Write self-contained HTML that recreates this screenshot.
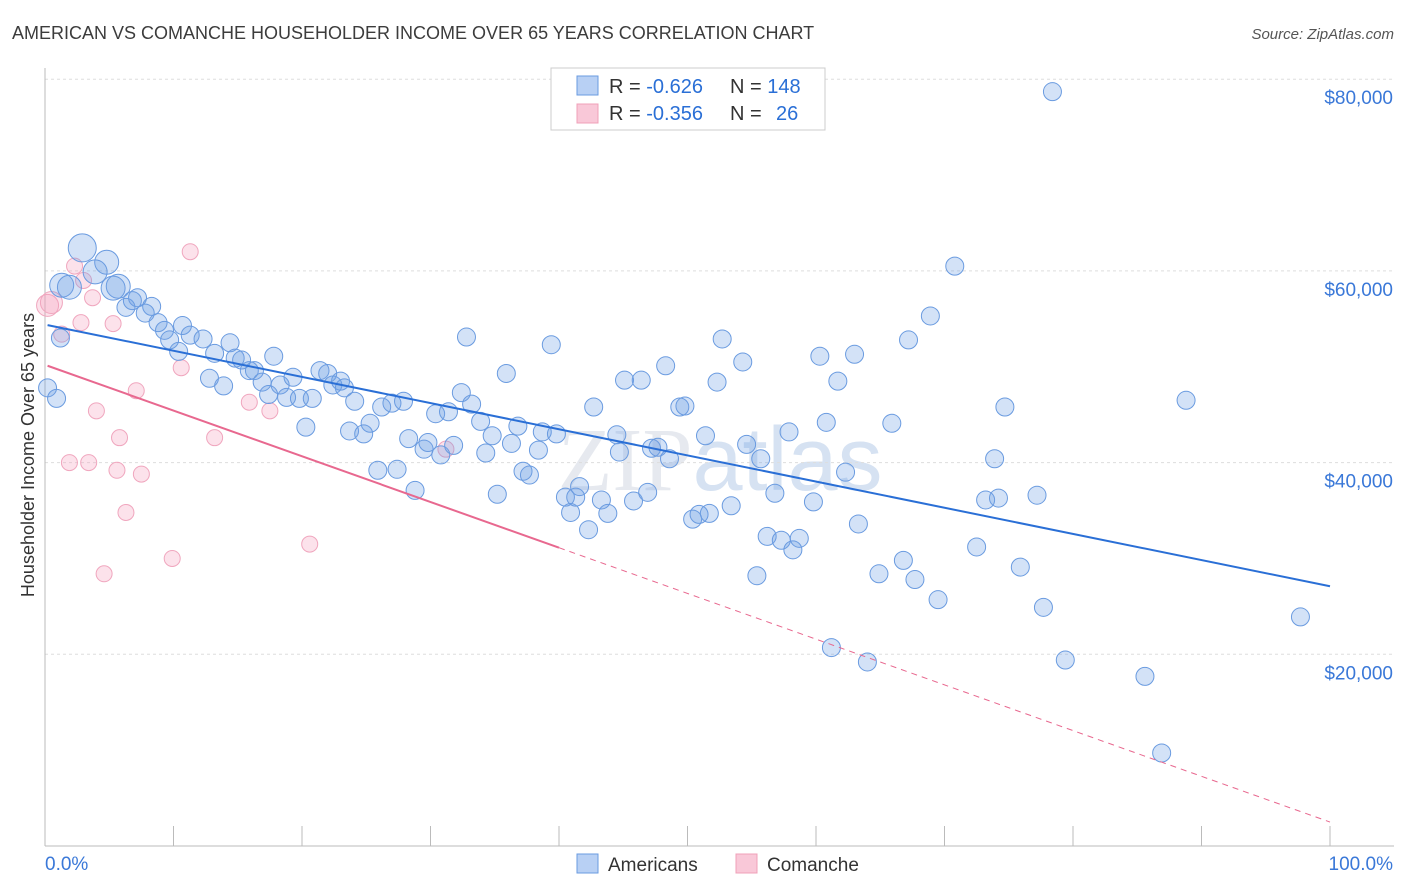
<!DOCTYPE html>
<html><head><meta charset="utf-8">
<style>
body{margin:0;background:#fff;font-family:"Liberation Sans",sans-serif;}
svg{display:block}
</style></head>
<body>
<svg id="chart" width="1406" height="892">
<text x="12" y="39" font-size="18" fill="#3c3c3c">AMERICAN VS COMANCHE HOUSEHOLDER INCOME OVER 65 YEARS CORRELATION CHART</text>
<text x="1394" y="39" font-size="15" fill="#555" font-style="italic" text-anchor="end">Source: ZipAtlas.com</text>
<text x="720" y="490" font-size="90" fill="#e6e9ef" text-anchor="middle" font-family="Liberation Serif">ZIP<tspan fill="#d6e2f2" font-family="Liberation Sans">atlas</tspan></text>
<text transform="translate(34,455) rotate(-90)" font-size="18" fill="#333" text-anchor="middle">Householder Income Over 65 years</text>
<g id="grid"></g>
<g id="marks"></g>
<g>
<rect x="551" y="68" width="274" height="62" fill="#fff" stroke="#ccc"/>
<rect x="577" y="76" width="21" height="19" fill="#b8d0f4" stroke="#6a9be0"/>
<rect x="577" y="104" width="21" height="19" fill="#f9c8d8" stroke="#f0a0b8"/>
<text x="609" y="93" font-size="20" fill="#333">R = <tspan fill="#2a6fd6">-0.626</tspan></text>
<text x="730" y="93" font-size="20" fill="#333">N = <tspan fill="#2a6fd6">148</tspan></text>
<text x="609" y="120" font-size="20" fill="#333">R = <tspan fill="#2a6fd6">-0.356</tspan></text>
<text x="730" y="120" font-size="20" fill="#333">N = </text>
<text x="776" y="120" font-size="20" fill="#2a6fd6">26</text>
</g>
<g>
<rect x="577" y="854" width="21" height="19" fill="#b8d0f4" stroke="#6a9be0"/>
<text x="608" y="871" font-size="19" fill="#333">Americans</text>
<rect x="736" y="854" width="21" height="19" fill="#f9c8d8" stroke="#f0a0b8"/>
<text x="767" y="871" font-size="19" fill="#333">Comanche</text>
</g>
</svg>
<script>
const yTicks=[20000,40000,60000,80000];
const yTickLabels=["$20,000","$40,000","$60,000","$80,000"];
const xTicks=[0,10,20,30,40,50,60,70,80,90,100];
const amX=[2.9,1.3,1.9,4.8,3.9,5.7,5.3,6.3,7.2,6.8,8.3,7.8,8.8,9.3,10.7,9.7,10.4,11.3,12.3,1.2,0.2,0.9,14.4,13.2,14.8,15.3,17.8,12.8,13.9,15.9,16.3,16.9,18.3,19.3,17.4,18.8,19.8,20.8,21.4,22.0,22.4,23.0,23.3,20.3,24.1,25.3,26.2,27.0,27.9,23.7,24.8,25.9,27.4,28.3,28.8,29.5,29.8,30.4,30.8,31.4,31.8,32.4,32.8,33.2,33.9,34.8,34.3,35.2,35.9,36.3,36.8,37.2,37.7,38.4,38.7,39.4,39.8,40.5,40.9,41.3,41.6,42.3,42.7,43.3,43.8,44.5,44.7,45.1,45.8,46.4,46.9,47.2,47.7,48.3,48.6,49.4,49.8,50.4,50.9,51.7,51.4,52.3,52.7,53.4,54.3,54.6,55.4,55.7,56.2,56.8,57.3,57.9,58.2,58.7,59.8,60.3,60.8,61.2,61.7,62.3,63.0,63.3,64.0,64.9,65.9,66.8,67.2,67.7,68.9,69.5,70.8,72.5,73.2,73.9,74.2,74.7,75.9,77.2,77.7,78.4,79.4,85.6,86.9,88.8,97.7];
const amY=[62.4,58.5,58.3,60.9,59.9,58.4,58.2,56.2,57.2,56.9,56.3,55.6,54.6,53.8,54.3,52.8,51.6,53.3,52.9,53.0,47.8,46.7,52.5,51.4,50.9,50.7,51.1,48.8,48.0,49.6,49.6,48.4,48.1,48.9,47.1,46.8,46.7,46.7,49.6,49.3,48.1,48.5,47.8,43.7,46.4,44.1,45.8,46.2,46.4,43.3,43.0,39.2,39.3,42.5,37.1,41.4,42.1,45.1,40.8,45.3,41.8,47.3,53.1,46.1,44.3,42.8,41.0,36.7,49.3,42.0,43.8,39.1,38.7,41.3,43.2,52.3,43.0,36.4,34.8,36.4,37.5,33.0,45.8,36.1,34.7,42.9,41.1,48.6,36.0,48.6,36.9,41.5,41.6,50.1,40.4,45.8,45.9,34.1,34.6,34.7,42.8,48.4,52.9,35.5,50.5,41.9,28.2,40.4,32.3,36.8,31.9,43.2,30.9,32.1,35.9,51.1,44.2,20.7,48.5,39.0,51.3,33.6,19.2,28.4,44.1,29.8,52.8,27.8,55.3,25.7,60.5,31.2,36.1,40.4,36.3,45.8,29.1,36.6,24.9,78.7,19.4,17.7,9.7,46.5,23.9];
const coX=[0.2,0.5,1.3,2.3,2.8,3.7,3.0,5.3,1.9,3.4,4.0,5.8,5.6,7.1,7.5,6.3,4.6,9.9,10.6,11.3,13.2,15.9,17.5,20.6,31.2];
const coY=[56.4,56.7,53.4,60.5,54.6,57.2,59.0,54.5,40.0,40.0,45.4,42.6,39.2,47.5,38.8,34.8,28.4,30.0,49.9,62.0,42.6,46.3,45.4,31.5,41.4];
const amTrend=[54.4,27.1]; // value (k$) at 0% and 100%
const coTrend=[50.2,2.5];
const coSolidEnd=40;

const NS="http://www.w3.org/2000/svg";
const X0=45,X1=1330,YBASE=846,YPER=191.7/20000;
const sx=v=>X0+(X1-X0)*v/100;
const sy=v=>YBASE-v*YPER;
function mk(tag,attrs,parent){const e=document.createElementNS(NS,tag);for(const k in attrs)e.setAttribute(k,attrs[k]);parent.appendChild(e);return e;}
const grid=document.getElementById('grid'),marks=document.getElementById('marks');
yTicks.forEach((t,i)=>{
 const l=mk('line',{x1:X0,y1:sy(t),x2:1394,y2:sy(t),stroke:'#ddd','stroke-dasharray':'3,3'},grid);
 
 
 const tx=mk('text',{x:1393,y:sy(t)+25,'font-size':19,fill:'#3a78d8','text-anchor':'end'},grid);
 tx.textContent=yTickLabels[i];
 
 
});
let ax=mk('line',{x1:X0,y1:68,x2:X0,y2:846,stroke:'#bbb'},grid);


ax=mk('line',{x1:X0,y1:846,x2:1394,y2:846,stroke:'#bbb'},grid);


xTicks.forEach(t=>{
 const l=mk('line',{x1:sx(t),y1:826,x2:sx(t),y2:846,stroke:'#bbb'},grid);
 
 
});
let xl=mk('text',{x:45,y:870,'font-size':19,fill:'#3a78d8'},grid);xl.textContent='0.0%';


xl=mk('text',{x:1393,y:870,'font-size':19,fill:'#3a78d8','text-anchor':'end'},grid);xl.textContent='100.0%';



coX.forEach((x,i)=>{
 const c=mk('circle',{cx:sx(x),cy:sy(coY[i]*1000),r:i<2?11:8,fill:'rgba(245,160,190,0.3)',stroke:'#f0a6be','stroke-width':1},marks);
 
 
});
amX.forEach((x,i)=>{
 const r=i===0?14:(i<7?12:9);
 const c=mk('circle',{cx:sx(x),cy:sy(amY[i]*1000),r:r,fill:'rgba(110,160,230,0.3)',stroke:'#6a9be0','stroke-width':1},marks);
 
 
});
const tl=(a,x)=>(a[0]+(a[1]-a[0])*x/100)*1000;
let ln=mk('line',{x1:sx(0.2),y1:sy(tl(amTrend,0.2)),x2:sx(100),y2:sy(tl(amTrend,100)),stroke:'#2a6fd6','stroke-width':2},marks);


ln=mk('line',{x1:sx(0.2),y1:sy(tl(coTrend,0.2)),x2:sx(coSolidEnd),y2:sy(tl(coTrend,coSolidEnd)),stroke:'#e8688f','stroke-width':2},marks);


ln=mk('line',{x1:sx(coSolidEnd),y1:sy(tl(coTrend,coSolidEnd)),x2:sx(100),y2:sy(tl(coTrend,100)),stroke:'#e8688f','stroke-width':1,'stroke-dasharray':'6,5'},marks);


</script>
</body></html>
